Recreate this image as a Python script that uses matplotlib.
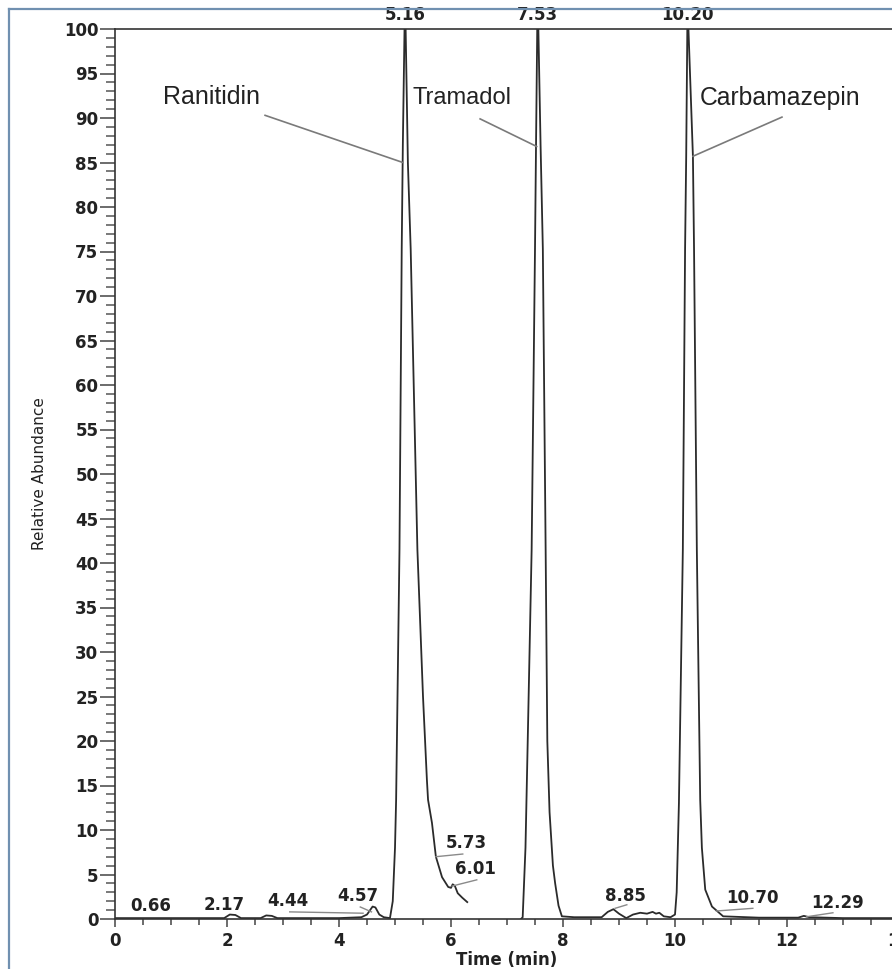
import numpy as np
import matplotlib.pyplot as plt
from matplotlib.lines import Line2D
from matplotlib.ticker import MultipleLocator

# ========================
# données lues sur le chromatogramme
# ========================
nan = np.nan
temps = [0.0, 0.5, 1.0, 1.5, 1.95, 2.05, 2.15, 2.25, 2.6, 2.7, 2.8, 2.9, 3.5, 4.0,
         4.4, 4.5, 4.6, 4.65, 4.72, 4.8, 4.91, 4.96, 5.0, 5.02, 5.08, 5.12, 5.14,
         5.17, 5.19, 5.23, 5.28, 5.40, 5.50, 5.57, 5.59, 5.66, 5.73, 5.84, 5.95,
         6.0, 6.03, 6.07, 6.12, 6.20, 6.29, nan,
         7.25, 7.28, 7.33, 7.37, 7.44, 7.50, 7.52, 7.54, 7.56, 7.60, 7.64, 7.69,
         7.72, 7.76, 7.82, 7.86, 7.92, 7.98, 8.2, 8.5, 8.69, 8.8, 8.9, 9.0, 9.13,
         9.25, 9.38, 9.5, 9.6, 9.66, 9.72, 9.8, 9.92, 10.0, 10.03, 10.07, 10.14,
         10.18, 10.20, 10.22, 10.24, 10.32, 10.34, 10.39, 10.45, 10.48, 10.54,
         10.66, 10.86, 11.5, 12.2, 12.3, 12.4, 13.0, 14.0]
abondance = [0.1, 0.1, 0.1, 0.1, 0.1, 0.5, 0.45, 0.1, 0.1, 0.4, 0.35, 0.1, 0.1, 0.1,
             0.2, 0.5, 1.4, 1.3, 0.5, 0.2, 0.1, 2.0, 8.0, 13.4, 41.5, 75.3, 87.0,
             100.0, 100.0, 85.0, 75.3, 41.5, 25.0, 15.6, 13.4, 10.8, 7.0, 4.7, 3.6,
             3.5, 3.9, 3.7, 2.9, 2.4, 1.9, nan,
             0.0, 0.2, 8.0, 20.0, 41.5, 75.3, 88.0, 100.0, 100.0, 86.8, 75.3, 41.5,
             20.0, 12.0, 6.0, 4.0, 1.5, 0.3, 0.2, 0.2, 0.2, 0.8, 1.1, 0.6, 0.1,
             0.5, 0.7, 0.6, 0.8, 0.6, 0.7, 0.3, 0.2, 0.5, 3.0, 13.0, 41.5,
             75.3, 85.7, 100.0, 100.0, 85.7, 75.3, 41.5, 13.4, 8.0, 3.3,
             1.4, 0.3, 0.15, 0.15, 0.35, 0.2, 0.1, 0.1]

# temps de rétention des pics principaux (affichés au-dessus du cadre)
pics_tr = ["5.16", "7.53", "10.20"]
pics_x = [5.18, 7.55, 10.23]

# petits pics : texte, position (x centre, y bas)
petits_tr = ["0.66", "2.17", "4.44", "4.57", "5.73", "6.01", "8.85", "10.70", "12.29"]
petits_x = [0.64, 1.95, 3.09, 4.33, 6.27, 6.43, 9.11, 11.39, 12.90]
petits_y = [0.45, 0.6, 1.0, 1.6, 7.5, 4.6, 1.6, 1.35, 0.8]
# traits de rappel des petits pics (x0, y0, x1, y1)
rappels_petits = [(3.12, 0.8, 4.43, 0.65), (4.38, 1.35, 4.58, 0.8),
                  (5.73, 7.0, 6.21, 7.3), (6.02, 3.7, 6.46, 4.4),
                  (8.93, 1.2, 9.14, 1.6), (10.74, 0.9, 11.39, 1.2),
                  (12.35, 0.25, 12.82, 0.7)]

# noms des composés + traits
composes = ["Ranitidin", "Tramadol", "Carbamazepin"]
composes_x = [0.86, 5.32, 10.45]
composes_y = [91.6, 91.6, 91.5]
rappels_composes = [(2.68, 90.3, 5.14, 85.0), (6.52, 89.9, 7.53, 86.8),
                    (11.91, 90.1, 10.32, 85.7)]

# ========================
# tracé
# ========================
fig = plt.figure(figsize=(8.92, 9.69), dpi=100)
ax = fig.add_axes([115 / 892, 50 / 969, 784 / 892, 890 / 969])

ax.plot(temps, abondance, color="#2b2b2b", lw=1.3)

ax.set_xlim(0, 14)
ax.set_ylim(0, 100)
ax.spines["right"].set_visible(False)
for s in ["left", "top", "bottom"]:
    ax.spines[s].set_color("#333333")
    ax.spines[s].set_linewidth(1.2)

ax.yaxis.set_major_locator(MultipleLocator(5))
ax.yaxis.set_minor_locator(MultipleLocator(1))
ax.xaxis.set_major_locator(MultipleLocator(2))
ax.xaxis.set_minor_locator(MultipleLocator(0.5))
ax.tick_params(axis="y", which="major", length=11, width=1.1, pad=1, color="#444444")
ax.tick_params(axis="y", which="minor", length=6.5, width=1.1, color="#555555")
ax.tick_params(axis="x", which="major", length=6, width=1.1, pad=3, color="#444444")
ax.tick_params(axis="x", which="minor", length=4.5, width=1.1, color="#444444")

tick_font = dict(family="DejaVu Sans", weight="bold", size=12)
for lab in ax.get_xticklabels() + ax.get_yticklabels():
    lab.set_fontfamily("DejaVu Sans")
    lab.set_fontweight("bold")
    lab.set_fontsize(12)
    lab.set_color("#222222")

ax.set_xlabel("Time (min)", color="#222222", labelpad=1, **tick_font)
ax.set_ylabel("Relative Abundance", family=["Liberation Sans Narrow", "DejaVu Sans"],
              size=11, color="#222222")
ax.yaxis.set_label_coords(-0.087, 0.5)

for t, x in zip(pics_tr, pics_x):
    ax.text(x, 100.6, t, ha="center", va="bottom", color="#222222", clip_on=False, **tick_font)

for t, x, y in zip(petits_tr, petits_x, petits_y):
    ax.text(x, y, t, ha="center", va="bottom", color="#222222", **tick_font)

for x0, y0, x1, y1 in rappels_petits:
    ax.plot([x0, x1], [y0, y1], color="#8a8a8a", lw=1.0)

for t, x, y, fs in zip(composes, composes_x, composes_y, [18, 17, 17.8]):
    ax.text(x, y, t, ha="left", va="baseline", family="Liberation Sans",
            size=fs, color="#222222")

for x0, y0, x1, y1 in rappels_composes:
    ax.plot([x0, x1], [y0, y1], color="#7a7a7a", lw=1.2)

# cadre bleuté de la figure d'origine
fig.add_artist(Line2D([9 / 892, 1], [1 - 9 / 969, 1 - 9 / 969], color="#7090b0", lw=1.6))
fig.add_artist(Line2D([9 / 892, 9 / 892], [0, 1 - 9 / 969], color="#7090b0", lw=1.6))

plt.savefig("out.png", dpi=100)
